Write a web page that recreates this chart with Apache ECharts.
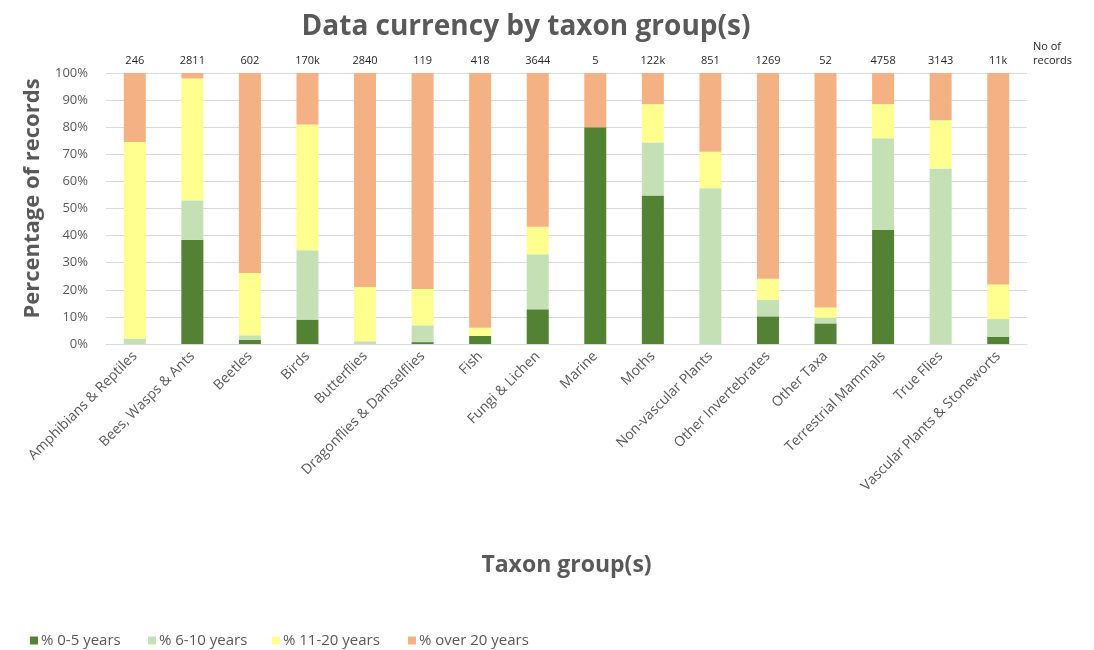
<!DOCTYPE html>
<html>
<head>
<meta charset="utf-8">
<script src="https://cdn.jsdelivr.net/npm/echarts@6/dist/echarts.min.js"></script>
<style>
  html, body { margin: 0; padding: 0; background: #ffffff; }
  #chart { width: 1094px; height: 650px; }
</style>
</head>
<body>
<div id="chart"></div>
<script>
// Taxon groups along the x axis
const categories = [
  'Amphibians & Reptiles', 'Bees, Wasps & Ants', 'Beetles', 'Birds', 'Butterflies',
  'Dragonflies & Damselflies', 'Fish', 'Fungi & Lichen', 'Marine', 'Moths',
  'Non-vascular Plants', 'Other Invertebrates', 'Other Taxa', 'Terrestrial Mammals',
  'True Flies', 'Vascular Plants & Stoneworts'
];

// Number of records per group (shown above each bar)
const recordCounts = ['246', '2811', '602', '170k', '2840', '119', '418', '3644', '5', '122k',
  '851', '1269', '52', '4758', '3143', '11k'];

// Share of records by age band (%)
const years0to5 = [0, 38.5, 1.5, 9, 0, 0.7, 3, 12.8, 80, 54.8, 0, 10.2, 7.6, 42.1, 0, 2.7];
const years6to10 = [2, 14.5, 1.7, 25.6, 1, 6.2, 0, 20.3, 0, 19.6, 57.5, 6.1, 2.1, 33.8, 64.8, 6.5];
const years11to20 = [72.5, 45, 23, 46.4, 20, 13.4, 3, 10.2, 0, 14.1, 13.4, 7.8, 3.8, 12.6, 17.8, 12.8];
const yearsOver20 = [25.5, 2, 73.8, 19, 79, 79.7, 94, 56.7, 20, 11.5, 29.1, 75.9, 86.5, 11.5, 17.4, 78];

const yTicks = [0, 10, 20, 30, 40, 50, 60, 70, 80, 90, 100];

const seriesNames = ['% 0-5 years', '% 6-10 years', '% 11-20 years', '% over 20 years'];
const seriesColors = ['#548235', '#C5E0B4', '#FFFF8F', '#F4B183'];
const seriesData = [years0to5, years6to10, years11to20, yearsOver20];

// Left edge of each legend entry
const legendLefts = [25, 143, 267, 403];

const font = '"Open Sans", "Noto Sans", sans-serif';

const chart = echarts.init(document.getElementById('chart'));

chart.setOption({
  backgroundColor: '#ffffff',
  animation: false,
  textStyle: { fontFamily: font },
  title: {
    text: 'Data currency by taxon group(s)',
    left: 521,
    textAlign: 'center',
    top: 8,
    textStyle: { fontFamily: font, fontSize: 28, fontWeight: 'bold', color: '#595959' }
  },
  graphic: [
    {
      type: 'text',
      left: 1033,
      top: 40,
      style: {
        text: 'No of\nrecords',
        font: '11px ' + font,
        fill: '#262626',
        lineHeight: 14
      }
    }
  ],
  legend: seriesNames.map((name, i) => ({
    left: legendLefts[i],
    top: 628,
    itemWidth: 8,
    itemHeight: 8,
    icon: 'rect',
    textStyle: { fontFamily: font, fontSize: 15, color: '#595959', padding: [0, 0, 0, -2] },
    data: [name]
  })),
  grid: {
    left: 106,
    right: 67,
    top: 73,
    bottom: 306,
    containLabel: false
  },
  xAxis: [
    {
      type: 'category',
      data: categories,
      axisLine: { lineStyle: { color: '#D9D9D9', width: 1 } },
      axisTick: { show: false },
      axisLabel: {
        rotate: 45,
        interval: 0,
        margin: 10,
        fontFamily: font,
        fontSize: 14,
        color: '#595959'
      },
      name: 'Taxon group(s)',
      nameLocation: 'middle',
      nameGap: 210,
      nameTextStyle: { fontFamily: font, fontSize: 23, fontWeight: 'bold', color: '#595959' }
    },
    {
      type: 'category',
      position: 'top',
      data: recordCounts,
      axisLine: { show: false },
      axisTick: { show: false },
      axisLabel: {
        interval: 0,
        margin: 7,
        fontFamily: font,
        fontSize: 11,
        color: '#262626'
      }
    }
  ],
  yAxis: {
    type: 'value',
    min: yTicks[0],
    max: yTicks[yTicks.length - 1],
    interval: 10,
    axisLine: { show: false },
    axisTick: { show: false },
    splitLine: { lineStyle: { color: '#D9D9D9', width: 1 } },
    axisLabel: {
      formatter: '{value}%',
      fontFamily: font,
      fontSize: 13,
      color: '#595959',
      margin: 18
    },
    name: 'Percentage of records',
    nameLocation: 'middle',
    nameGap: 62,
    nameTextStyle: {
      fontFamily: font, fontSize: 22, fontWeight: 'bold', color: '#595959',
      padding: [0, 0, 0, 20]
    }
  },
  series: seriesNames.map((name, i) => ({
    name: name,
    type: 'bar',
    stack: 'share',
    barWidth: 22,
    xAxisIndex: 0,
    data: seriesData[i],
    itemStyle: { color: seriesColors[i] }
  }))
});
</script>
</body>
</html>
